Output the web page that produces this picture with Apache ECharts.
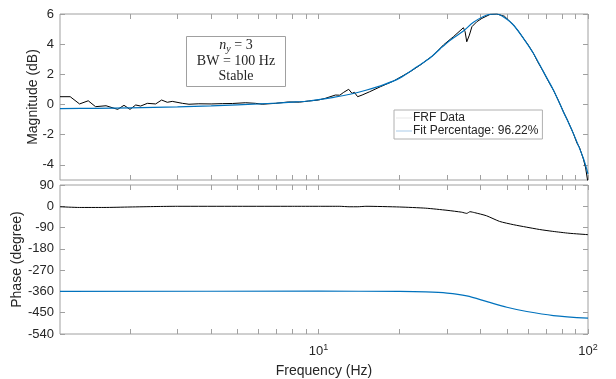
<!DOCTYPE html>
<html>
<head>
<meta charset="utf-8">
<script src="https://cdn.jsdelivr.net/npm/echarts@6/dist/echarts.min.js"></script>
<style>
html,body{margin:0;padding:0;background:#fff;}
#c{width:616px;height:379px;}
</style>
</head>
<body>
<div id="c"></div>
<script>
// ---- data ----
const frfMagFreq = [1.1,1.2,1.3,1.4,1.49,1.63,1.8,1.9,2.0,2.1,2.19,2.32,2.49,2.62,2.75,2.87,3.13,3.31,3.6,4.0,4.4,4.8,5.37,5.84,6.19,6.93,7.74,8.5,9.18,10.0,10.6,11.56,12.0,12.41,12.95,13.33,13.59,13.98,14.52,15.5,16.97,19.0,21.9,23.87,26.73,29.1,31.7,34.5,35.0,35.5,36.3,37.1,38.7,40.4,43.4,45.9,49,52.9,55,57.6,60,62.7,65,68.3,71,74.4,77.5,81,84,88.2,91,93,96.1,98,100];
const frfMag = [0.52,0.52,0.04,0.25,-0.14,-0.08,-0.32,-0.05,-0.32,-0.03,-0.1,0.08,0.04,0.30,0.15,0.21,0.08,0.02,0.05,0.04,0.06,0.07,0.12,0.08,0.02,0.08,0.17,0.16,0.23,0.30,0.41,0.63,0.62,0.81,1.01,0.74,0.81,0.52,0.63,0.85,1.18,1.56,2.18,2.62,3.28,3.95,4.5,5.09,4.83,4.16,4.6,5.16,5.49,5.71,5.98,6.0,5.85,5.27,4.9,4.39,3.95,3.40,2.85,2.18,1.6,0.96,0.3,-0.47,-1.05,-1.91,-2.55,-2.85,-3.6,-4.2,-5.2];

const fitMagFreq = [1.1,1.5,2,3,4,5,6,7,8,9,10,11.4,13.1,15,17.5,20,23.2,26,28.3,31,34.5,37.6,42.2,45.9,50,52.9,57.6,62.7,68.3,74.4,81,88.2,96.1,100];
const fitMag = [-0.27,-0.25,-0.22,-0.16,-0.09,-0.02,0.04,0.1,0.16,0.22,0.32,0.48,0.68,0.95,1.32,1.75,2.5,3.1,3.7,4.3,4.87,5.45,5.93,6.0,5.65,5.27,4.39,3.4,2.18,0.96,-0.47,-1.91,-3.56,-4.6];

const frfPhaseFreq = [1.1,1.3,1.6,2,2.5,3,5,8,10,12,13,14,15,20,25,30,34,35.5,36.5,38,42,47,53,59,66,74,85,100];
const frfPhase = [-2,-5,-5,-3,-1,0,0,0,0,0,-2,-2,0,-3,-8,-17,-25,-30,-23,-27,-40,-64,-78,-88,-98,-106,-114,-120];

const fitPhaseFreq = [1.1,10,20,25,30,35.5,42.2,50,59.3,74.4,100];
const fitPhase = [-360,-359,-360,-362,-367,-379,-403,-427,-445,-462,-473];

const magTicks = [-4,-2,0,2,4,6];
const xTickValues = [2,3,4,5,6,7,8,9,10,20,30,40,50,60,70,80,90,100];
const xLabelValues = [10,100];
const legendNames = ['FRF Data','Fit Percentage: 96.22%'];

// ---- chart ----
const pair = (xs, ys) => xs.map((x, i) => [x, ys[i]]);
const axisColor = '#a0a0a0';
const textColor = '#262626';
const font = 'Liberation Sans, Arial, sans-serif';

function xAx(grid, pos, labels) {
  return {
    type: 'log', logBase: 10, min: 1.1, max: 100, gridIndex: grid, position: pos,
    axisLine: {show: false, onZero: false},
    axisTick: {show: true, inside: true, length: 5, lineStyle: {color: axisColor}, customValues: xTickValues},
    axisLabel: labels ? {
      show: true, customValues: xLabelValues, color: textColor, fontFamily: font, fontSize: 13, margin: 9,
      formatter: v => '10{s|' + Math.round(Math.log10(v)) + '}',
      rich: {s: {fontSize: 9, verticalAlign: 'top', padding: [0,0,8,0], color: textColor, fontFamily: font}}
    } : {show: false},
    splitLine: {show: false}
  };
}
function yAx(grid, pos, opts, labels) {
  const base = Object.assign({
    type: 'value', gridIndex: grid, position: pos,
    axisLine: {show: false, onZero: false},
    splitLine: {show: false}
  }, opts);
  base.axisTick = Object.assign({show: true, inside: true, length: 5, lineStyle: {color: axisColor}}, opts.tickExtra || {});
  base.axisLabel = labels ? Object.assign({show: true, color: textColor, fontFamily: font, fontSize: 13, margin: 6}, opts.labelExtra || {}) : {show: false};
  delete base.tickExtra; delete base.labelExtra;
  return base;
}

const chart = echarts.init(document.getElementById('c'), null, {renderer: 'canvas'});
chart.setOption({
  animation: false,
  backgroundColor: '#fff',
  grid: [
    {left: 60, top: 14, width: 528, height: 166, show: true, borderColor: axisColor, borderWidth: 1, backgroundColor: '#fff'},
    {left: 60, top: 185, width: 528, height: 149, show: true, borderColor: axisColor, borderWidth: 1, backgroundColor: '#fff'}
  ],
  xAxis: [
    xAx(0, 'bottom', false),
    xAx(0, 'top', false),
    Object.assign(xAx(1, 'bottom', true), {name: 'Frequency (Hz)', nameLocation: 'middle', nameGap: 30,
      nameTextStyle: {color: textColor, fontFamily: font, fontSize: 14}}),
    xAx(1, 'top', false)
  ],
  yAxis: [
    yAx(0, 'left', {min: -5, max: 6, name: 'Magnitude (dB)', nameLocation: 'middle', nameGap: 20, nameMoveOverlap: false,
      nameTextStyle: {color: textColor, fontFamily: font, fontSize: 14},
      tickExtra: {customValues: magTicks}, labelExtra: {customValues: magTicks}}, true),
    yAx(0, 'right', {min: -5, max: 6, tickExtra: {customValues: magTicks}}, false),
    yAx(1, 'left', {min: -540, max: 90, interval: 90, name: 'Phase (degree)', nameLocation: 'middle', nameGap: 36, nameMoveOverlap: false,
      nameTextStyle: {color: textColor, fontFamily: font, fontSize: 14}}, true),
    yAx(1, 'right', {min: -540, max: 90, interval: 90}, false)
  ],
  legend: {
    orient: 'vertical', left: 394, top: 110, padding: [2, 4, 2, 2], itemGap: 1,
    itemWidth: 16, itemHeight: 12,
    borderColor: '#b0b0b0', borderWidth: 1, backgroundColor: '#fff',
    textStyle: {color: textColor, fontFamily: font, fontSize: 12, padding: [0,0,0,-4]},
    data: [
      {name: legendNames[0], icon: 'path://M0,5L16,5L16,6L0,6Z', itemStyle: {color: '#e6e6e6'}},
      {name: legendNames[1], icon: 'path://M0,5L16,5L16,6L0,6Z', itemStyle: {color: '#a9cbe8'}}
    ]
  },
  graphic: [{
    type: 'group', left: 186, top: 36,
    children: [
      {type: 'rect', shape: {x: 0, y: 0, width: 99, height: 50}, style: {fill: '#fff', stroke: '#a0a0a0', lineWidth: 1}},
      {type: 'text', x: 49.5, y: 9, style: {text: '{i|n}{sub|y}{t| = 3}', align: 'center', verticalAlign: 'middle',
        rich: {i: {fontFamily: 'Liberation Serif, serif', fontStyle: 'italic', fontSize: 14, fill: textColor},
               sub: {fontFamily: 'Liberation Serif, serif', fontStyle: 'italic', fontSize: 10, fill: textColor, padding: [8,0,0,0]},
               t: {fontFamily: 'Liberation Serif, serif', fontSize: 14, fill: textColor}}}},
      {type: 'text', x: 49.5, y: 24.5, style: {text: 'BW = 100 Hz', align: 'center', verticalAlign: 'middle',
        fontFamily: 'Liberation Serif, serif', fontSize: 14, fill: textColor}},
      {type: 'text', x: 49.5, y: 39.5, style: {text: 'Stable', align: 'center', verticalAlign: 'middle',
        fontFamily: 'Liberation Serif, serif', fontSize: 14, fill: textColor}}
    ]
  }],
  series: [
    {name: legendNames[0], type: 'line', xAxisIndex: 0, yAxisIndex: 0, data: pair(frfMagFreq, frfMag),
      showSymbol: false, symbol: 'none', lineStyle: {color: '#000', width: 1}, itemStyle: {color: '#000'}, clip: true, z: 2},
    {name: legendNames[1], type: 'line', xAxisIndex: 0, yAxisIndex: 0, data: pair(fitMagFreq, fitMag), smooth: 0.3,
      showSymbol: false, symbol: 'none', lineStyle: {color: '#0072BD', width: 1.2}, itemStyle: {color: '#0072BD'}, clip: true, z: 3},
    {name: legendNames[0], type: 'line', xAxisIndex: 2, yAxisIndex: 2, data: pair(frfPhaseFreq, frfPhase), smooth: 0.2,
      showSymbol: false, symbol: 'none', lineStyle: {color: '#000', width: 1}, itemStyle: {color: '#000'}},
    {name: legendNames[1], type: 'line', xAxisIndex: 2, yAxisIndex: 2, data: pair(fitPhaseFreq, fitPhase), smooth: 0.3,
      showSymbol: false, symbol: 'none', lineStyle: {color: '#0072BD', width: 1.2}, itemStyle: {color: '#0072BD'}}
  ]
});
</script>
</body>
</html>
